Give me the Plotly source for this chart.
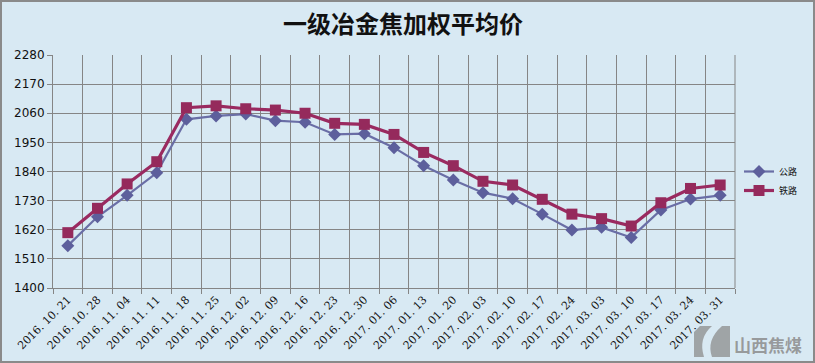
import plotly.graph_objects as go

dates = ["2016. 10. 21", "2016. 10. 28", "2016. 11. 04", "2016. 11. 11", "2016. 11. 18",
         "2016. 11. 25", "2016. 12. 02", "2016. 12. 09", "2016. 12. 16", "2016. 12. 23",
         "2016. 12. 30", "2017. 01. 06", "2017. 01. 13", "2017. 01. 20", "2017. 02. 03",
         "2017. 02. 10", "2017. 02. 17", "2017. 02. 24", "2017. 03. 03", "2017. 03. 10",
         "2017. 03. 17", "2017. 03. 24", "2017. 03. 31"]
highway = [1560, 1669, 1750, 1835, 2037, 2050, 2057, 2032, 2026, 1980, 1983, 1930,
           1862, 1808, 1760, 1737, 1679, 1619, 1629, 1591, 1695, 1736, 1750]
railway = [1609, 1701, 1793, 1877, 2081, 2088, 2077, 2072, 2060, 2022, 2018, 1980,
           1912, 1862, 1803, 1789, 1735, 1679, 1662, 1634, 1722, 1776, 1789]
y_ticks = [1400, 1510, 1620, 1730, 1840, 1950, 2060, 2170, 2280]

W, H = 815, 363
L, R, T, B = 53, 80, 55, 75
pw, ph = W - L - R, H - T - B

bg = "#d8e9f3"
fig = go.Figure()
fig.add_trace(go.Scatter(
    x=dates, y=highway, name="公路", mode="lines+markers",
    line=dict(color="#6a6ea6", width=2.2),
    marker=dict(symbol="diamond", size=10, color="#5d5f9c"),
))
fig.add_trace(go.Scatter(
    x=dates, y=railway, name="铁路", mode="lines+markers",
    line=dict(color="#9a2a60", width=3.2),
    marker=dict(symbol="square", size=11, color="#952a5c"),
))

fig.update_layout(
    width=W, height=H,
    margin=dict(l=L, r=R, t=T, b=B),
    paper_bgcolor=bg, plot_bgcolor=bg,
    title=dict(text="一级冶金焦加权平均价", x=403 / W, xanchor="center",
               y=1 - 25 / H, yanchor="middle",
               font=dict(family="Noto Sans CJK SC", size=24, color="#111111", weight="bold")),
    font=dict(family="DejaVu Sans", color="#111111"),
    showlegend=True,
    legend=dict(x=1 + 4 / pw, y=(288 - 181) / ph, xanchor="left", yanchor="middle",
                bgcolor="rgba(0,0,0,0)", font=dict(family="Noto Sans CJK SC", size=9),
                itemwidth=30, tracegroupgap=2),
    xaxis=dict(type="category", range=[-0.5, len(dates) - 0.5], tickson="boundaries",
               showgrid=True, gridcolor="#858585", gridwidth=1,
               showline=True, linecolor="#858585", ticks="outside", ticklen=5,
               tickcolor="#858585", tickangle=-45,
               tickfont=dict(family="DejaVu Serif", size=11, color="#111111")),
    yaxis=dict(range=[1400, 2280], tickvals=y_ticks, showgrid=True, gridcolor="#858585",
               gridwidth=1, showline=True, linecolor="#858585", ticks="outside",
               ticklen=5, tickcolor="#858585", zeroline=False,
               tickfont=dict(family="DejaVu Sans", size=12, color="#111111")),
)

# outer border
fig.add_shape(type="rect", xref="paper", yref="paper",
              x0=-(L - 1) / pw, x1=(W - L - 1) / pw,
              y0=-(B - 1) / ph, y1=(H - B - 1) / ph,
              line=dict(color="#8a8a8a", width=2), fillcolor="rgba(0,0,0,0)")
# right border of plot area
fig.add_shape(type="line", xref="paper", yref="paper", x0=1, x1=1, y0=0, y1=1,
              line=dict(color="#858585", width=1))

# watermark logo
def px(x):
    return (x - L) / pw
def py(y):
    return (H - B - y) / ph

fig.add_shape(type="path", xref="paper", yref="paper",
              path=f"M {px(700)},{py(326)} L {px(730)},{py(326)} L {px(730)},{py(357)} L {px(712)},{py(357)} Q {px(706)},{py(340)} {px(722)},{py(326)} L {px(712)},{py(326)} Q {px(698)},{py(338)} {px(704)},{py(357)} L {px(694)},{py(357)} L {px(694)},{py(332)} Z",
              fillcolor="rgba(140,140,140,0.75)", line=dict(width=0))
fig.add_annotation(text="山西焦煤", xref="paper", yref="paper", x=px(768), y=py(344),
                   showarrow=False, xanchor="center", yanchor="middle",
                   font=dict(family="Noto Sans CJK SC", size=17, color="rgba(140,140,140,0.85)", weight="bold"))

fig.write_html("out.html")
